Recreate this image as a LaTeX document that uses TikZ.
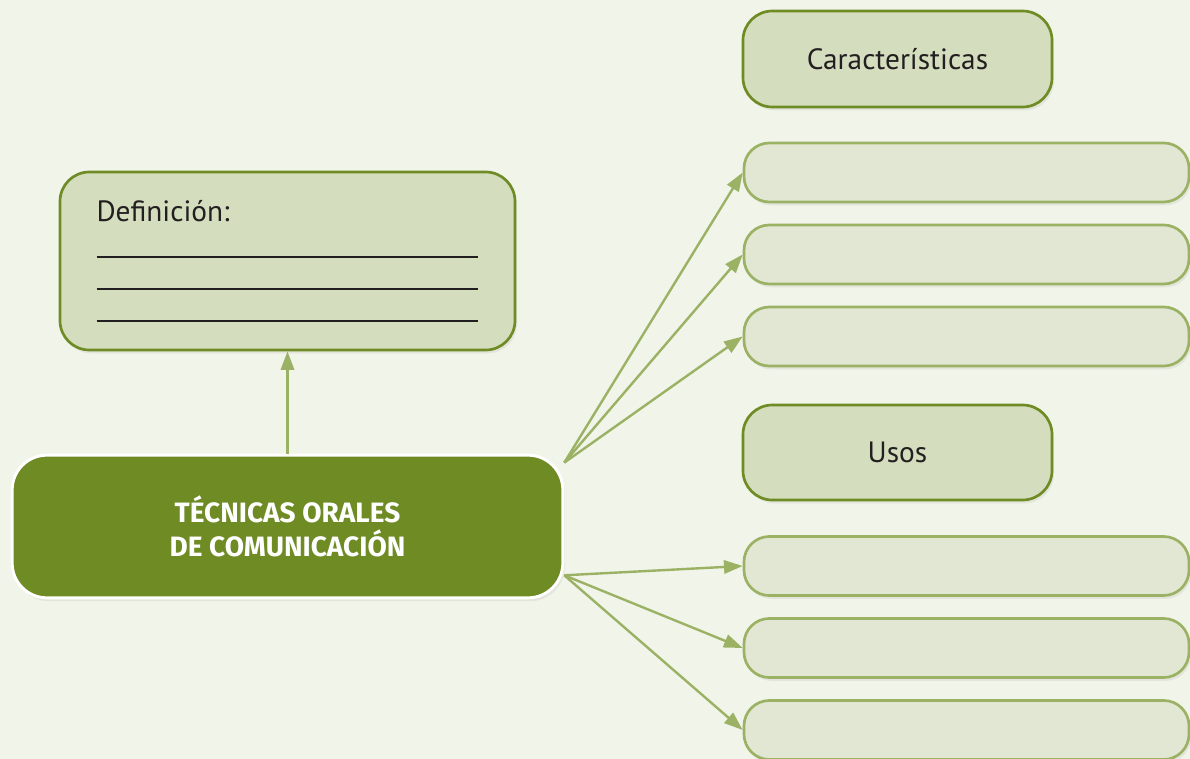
\documentclass[tikz,border=0pt]{standalone}
\usepackage{fontspec}
\setmainfont{PT Sans}
\newfontfamily\titlefont{Fira Sans}
\usetikzlibrary{arrows.meta,shadows}

\definecolor{bgcol}{RGB}{241,244,233}
\definecolor{olive}{RGB}{110,139,36}
\definecolor{sage}{RGB}{212,221,190}
\definecolor{pale}{RGB}{226,231,211}
\definecolor{moss}{RGB}{155,178,100}
\definecolor{ink}{RGB}{35,31,32}

\tikzset{every picture/.style={line width=0.75pt}}
\tikzset{
  softshadow/.style={drop shadow={shadow xshift=1.5pt,shadow yshift=-2.5pt,opacity=0.12}},
  mainbox/.style={rectangle,rounded corners=26pt,fill=olive,draw=white,line width=2.2pt,
    minimum width=413pt,minimum height=107pt,text=white,align=center,softshadow,
    font=\titlefont\bfseries\fontsize{21pt}{25.5pt}\selectfont},
  headbox/.style={rectangle,rounded corners=22pt,fill=sage,draw=olive,line width=2pt,
    minimum width=231.75pt,text=ink,softshadow,font=\fontsize{22pt}{24pt}\selectfont},
  blankbox/.style={rectangle,rounded corners=19pt,fill=pale,draw=moss,line width=2pt,
    minimum width=333.75pt,minimum height=44.25pt,softshadow},
  linkarrow/.style={draw=moss,line width=1.8pt,-{Triangle[length=14pt,width=10pt]}},
}

\begin{document}
\begin{tikzpicture}[x=0.75pt,y=0.75pt,yscale=-1,xscale=1]
    \useasboundingbox (0,0) rectangle (1190,759);
    \fill[bgcol] (0,0) rectangle (1190,759);

    % central topic
    \node[mainbox] (tecnicas) at (287.5,526.5) {TÉCNICAS ORALES\\DE COMUNICACIÓN};

    % definition box with blank lines
    \node[headbox,minimum width=341.25pt,minimum height=133.5pt,align=left,text width=286.5pt] (definicion) at (287.5,261)
      {Definición:\\
       \rule[-3pt]{286.5pt}{1.5pt}\\
       \rule[-3pt]{286.5pt}{1.5pt}\\
       \rule[-3pt]{286.5pt}{1.5pt}};

    % headings on the right
    \node[headbox,minimum height=72pt] (caract) at (897.5,59) {Características};
    \node[headbox,minimum height=71.25pt] (usos) at (897.5,452.5) {Usos};

    % blank answer boxes
    \foreach \n/\y in {1/172.5,2/254.5,3/336.5}
      \node[blankbox] (c\n) at (966.5,\y) {};
    \foreach \n/\y in {1/566,2/648,3/730}
      \node[blankbox] (u\n) at (966.5,\y) {};

    % connectors
    \draw[linkarrow] (tecnicas.north) -- (definicion.south);
    \foreach \n in {1,2,3}
      \draw[linkarrow] (tecnicas.13) -- (c\n.west);
    \foreach \n in {1,2,3}
      \draw[linkarrow] (tecnicas.-10.5) -- (u\n.west);
\end{tikzpicture}
\end{document}
